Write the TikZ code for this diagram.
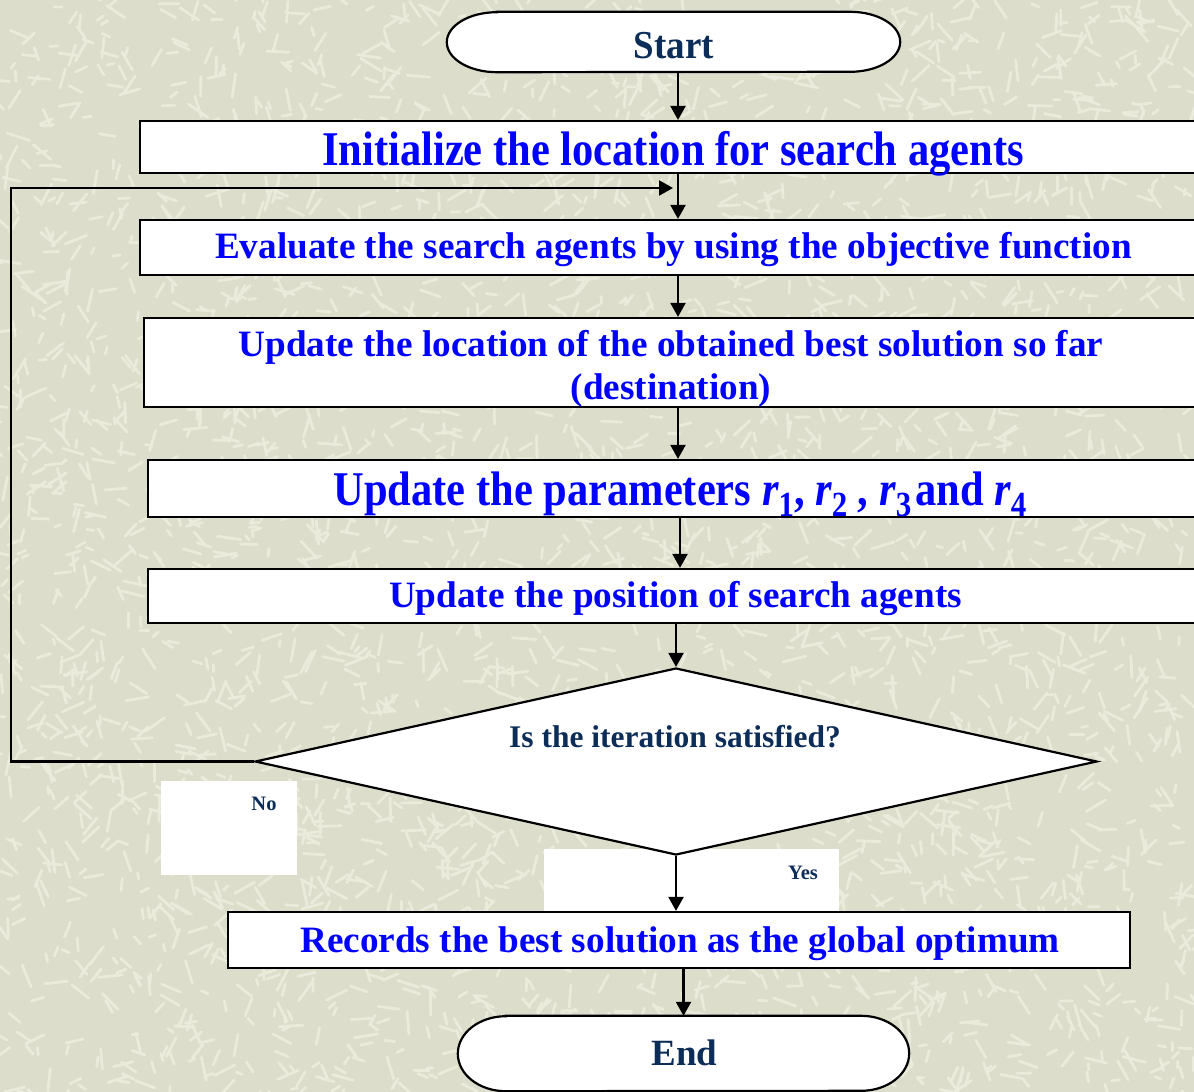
\documentclass[tikz,border=0pt]{standalone}
\usepackage{fontspec}
\setmainfont{Liberation Serif}
\usetikzlibrary{arrows.meta,shapes.geometric}

\definecolor{paper}{RGB}{221,221,203}
\definecolor{flecks}{RGB}{235,235,220}
\definecolor{stepblue}{RGB}{0,0,255}
\definecolor{navy}{RGB}{12,45,88}

\newcommand{\rsub}[1]{{\itshape r}\raisebox{-10pt}{\fontsize{31}{31}\selectfont #1}}
\newcommand{\tallby}[2]{\scalebox{1}[#1]{#2}}

\tikzset{
  fleck/.style={draw=flecks,line width=2.8pt,line cap=round},
  outline/.style={line width=2.2pt,draw=black},
  stepbox/.style={outline,fill=white,rectangle,inner sep=0pt},
  steptext/.style={anchor=base,inner sep=0pt,text=stepblue,
    font=\bfseries\fontsize{37.2}{43}\selectfont},
  bigtext/.style={steptext,font=\bfseries\fontsize{42.5}{48}\selectfont},
  terminal/.style={rectangle,inner sep=0pt},
  termtext/.style={anchor=base,inner sep=0pt,text=navy,
    font=\bfseries\fontsize{37}{43}\selectfont},
  decision/.style={outline,fill=white,diamond,inner sep=0pt},
  question/.style={anchor=base,text=navy,inner sep=0pt,
    font=\bfseries\fontsize{31.5}{36}\selectfont},
  tag/.style={fill=white,rectangle,inner sep=0pt},
  tagtext/.style={anchor=base,text=navy,inner sep=0pt,
    font=\bfseries\fontsize{20.5}{24}\selectfont},
  arr/.style={line width=2.2pt,-{Triangle[length=14pt,width=15pt]}},
}

% stadium outline drawn around a named node
\newcommand{\stadium}[2]{%
  \filldraw[outline,fill=white]
    ([xshift=#2]#1.north west) -- ([xshift=-#2]#1.north east)
    arc[start angle=90,end angle=-90,x radius=#2,y radius={0.5*\stadh}]
    -- ([xshift=#2]#1.south west)
    arc[start angle=270,end angle=90,x radius=#2,y radius={0.5*\stadh}]
    -- cycle;}

\begin{document}
\begin{tikzpicture}[x=1pt,y=-1pt]
\useasboundingbox (0,0) rectangle (1194,1092);
\clip (0,0) rectangle (1194,1092);

% textured paper
\fill[paper] (0,0) rectangle (1194,1092);
\pgfmathsetseed{42}
\foreach \k in {1,...,3600}{
  \pgfmathsetmacro{\px}{1194*rnd}
  \pgfmathsetmacro{\py}{1092*rnd}
  \pgfmathsetmacro{\pa}{360*rnd}
  \pgfmathsetmacro{\pl}{6+18*rnd}
  \draw[fleck] (\px,\py) -- ++(\pa:\pl);
}

% helper coordinates
\coordinate (spine) at (678,0);
\coordinate (loopx) at (11,0);
\coordinate (loopin) at (673,188);

% label patches under the decision
\node[tag,minimum width=136pt,minimum height=94pt] (nobox) at (229,828) {};
\node[tag,minimum width=295pt,minimum height=62pt] (yesbox) at (691.5,880) {};
\node[tagtext] (notext) at (264,810) {No};
\node[tagtext] (yestext) at (803,879) {Yes};

% terminals
\node[terminal,minimum width=453pt,minimum height=60pt] (start) at (673.5,42) {};
\def\stadh{60pt}
\stadium{start}{50pt}
\node[termtext] (starttext) at (674,58) {\tallby{1.07}{Start}};

\node[terminal,minimum width=451pt,minimum height=75pt] (end) at (683.5,1053.5) {};
\def\stadh{75pt}
\stadium{end}{48pt}
\node[termtext] (endtext) at (684.5,1065) {End};

% process steps (the right-hand edges run off the page)
\node[stepbox,minimum width=1066pt,minimum height=52pt] (init) at (673,147) {};
\node[bigtext] (inittext) at (673,165)
  {\tallby{1.14}{Initialize the location for search agents}};

\node[stepbox,minimum width=1067pt,minimum height=55pt] (eval) at (673.5,247.5) {};
\node[steptext] (evaltext) at (673.5,258)
  {Evaluate the search agents by using the objective function};

\node[stepbox,minimum width=1054pt,minimum height=89pt] (upd) at (671,362.5) {};
\node[steptext] (updtext1) at (671,356)
  {Update the location of the obtained best solution so far};
\node[steptext] (updtext2) at (671,399) {(destination)};

\node[stepbox,minimum width=1064pt,minimum height=57pt] (par) at (680,488.5) {};
\node[bigtext] (partext) at (680,505)
  {\tallby{1.14}{Update the parameters \rsub{1}, \rsub{2} , \rsub{3}\kern4pt and \rsub{4}}};

\node[stepbox,minimum width=1055pt,minimum height=54pt] (pos) at (675.5,596) {};
\node[steptext] (postext) at (675.5,607)
  {Update the position of search agents};

% decision
\node[decision,minimum width=842pt,minimum height=187pt] (dec) at (676,761.5) {};
\node[question] (dectext) at (675,747) {Is the iteration satisfied?};

\node[stepbox,minimum width=902pt,minimum height=56pt] (rec) at (679,940) {};
\node[steptext] (rectext) at (680,952)
  {Records the best solution as the global optimum};

% connectors
\draw[arr] (start.south -| spine) -- (init.north -| spine);
\draw[arr] (init.south -| spine) -- (eval.north -| spine);
\draw[arr] (eval.south -| spine) -- (upd.north -| spine);
\draw[arr] (upd.south -| spine) -- (par.north -| spine);
\draw[arr] (par.south -| par.center) -- (pos.north -| par.center);
\draw[arr] (pos.south -| dec.north) -- (dec.north);
\draw[arr] (dec.south) -- (dec.south |- rec.north);
\draw[arr] (rec.south -| end.north) -- (end.north);
\draw[arr] (dec.west) -- (dec.west -| loopx) |- (loopin);
\end{tikzpicture}
\end{document}
